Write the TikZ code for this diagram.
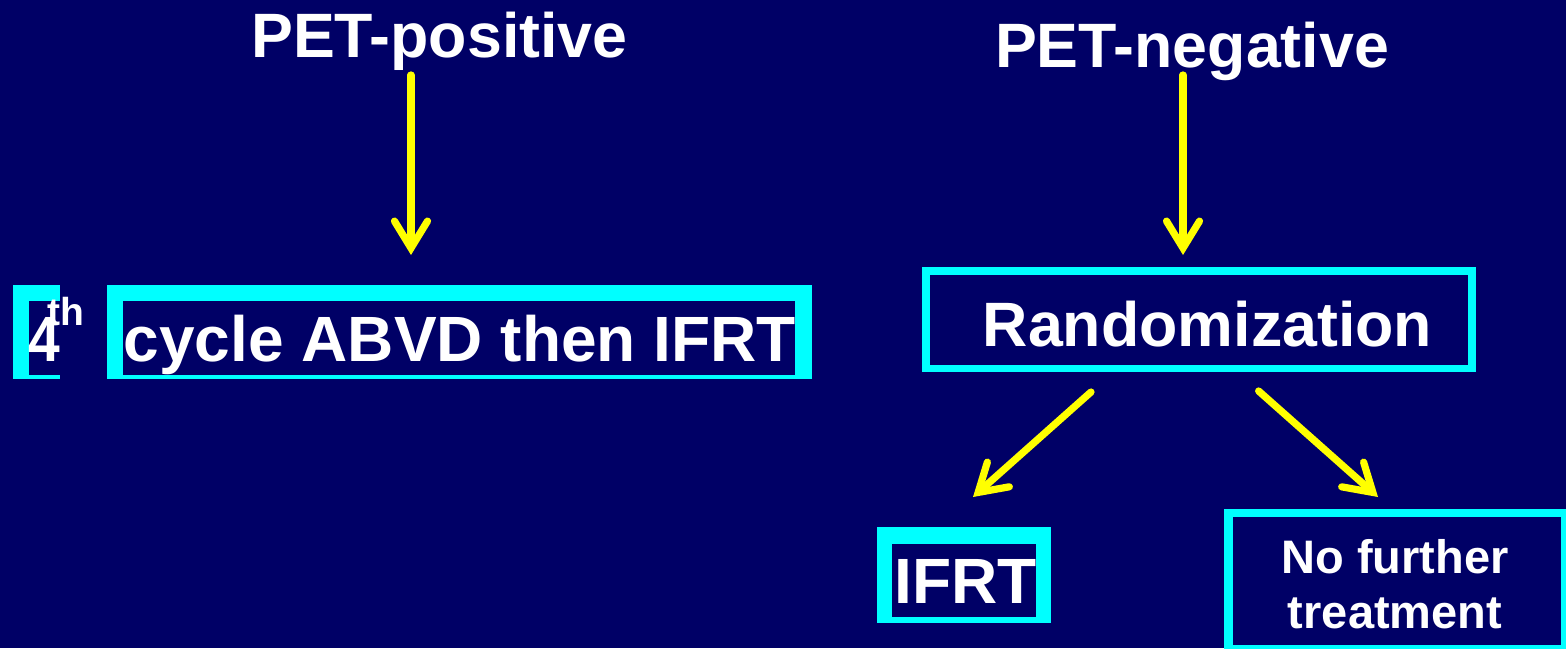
\documentclass[tikz,border=0pt]{standalone}
\usepackage{fontspec}
\setmainfont{Liberation Sans}
\usetikzlibrary{arrows.meta,fit}
\definecolor{bg}{RGB}{0,0,102}
\definecolor{cy}{RGB}{0,255,255}
\definecolor{yl}{RGB}{255,255,0}
\begin{document}
\begin{tikzpicture}[x=0.5pt,y=-0.5pt,
  txt/.style={text=white, font=\bfseries\fontsize{31.35pt}{36pt}\selectfont, inner sep=0, anchor=base},
  bigtxt/.style={txt, font=\bfseries\fontsize{32pt}{36pt}\selectfont},
  smalltxt/.style={txt, font=\bfseries\fontsize{23.5pt}{28pt}\selectfont},
  suptxt/.style={txt, anchor=base west, font=\bfseries\fontsize{19.5pt}{22pt}\selectfont},
  frame/.style={fill=cy, inner sep=0},
  hole/.style={fill=bg, inner sep=0},
  yarrow/.style={draw=yl, line width=3.6pt, line cap=round,
    -{Straight Barb[length=13.5pt, width=16.5pt, line cap=round, line join=miter]}}]
\fill[bg] (0,0) rectangle (1566,648);
\useasboundingbox (0,0) rectangle (1566,648);
\begin{scope}
\clip (0,0) rectangle (1566,648);
% headings
\node[txt] (pos) at (439.4,57.5) {PET-positive};
\node[txt] (neg) at (1192,67.5) {PET-negative};
% 4th box
\node[frame, fit={(13,285)(60,379)}] (fourf) {};
\node[hole, fit={(29,300.7)(60,375)}] (fourh) {};
\node[bigtxt, anchor=base west] (four) at (28,361) {\scalebox{0.89}[1]{4}};
\node[suptxt] (th) at (47,325) {th};
% main box
\node[frame, fit={(107,285)(812,379)}] (mainf) {};
\node[hole, fit={(123,300.7)(795,375)}] (mainh) {};
\node[bigtxt] (main) at (459.8,361) {cycle ABVD then IFRT};
% randomization
\node[frame, fit={(922,267)(1476,372)}] (randf) {};
\node[hole, fit={(930,274.5)(1468,364.5)}] (randh) {};
\node[txt] (rand) at (1207.5,346) {Randomization};
% IFRT
\node[frame, fit={(877,526.7)(1051,622.7)}] (ifrtf) {};
\node[hole, fit={(892.4,544)(1035.7,616.7)}] (ifrth) {};
\node[bigtxt] (ifrt) at (965.5,603) {IFRT};
% no further treatment
\node[frame, fit={(1224,509.3)(1572,656)}] (nftf) {};
\node[hole, fit={(1233,516.7)(1561,645)}] (nfth) {};
\node[smalltxt] (nft1) at (1395,573) {No further};
\node[smalltxt] (nft2) at (1395,628) {treatment};
% arrows
\coordinate (a1s) at (411,75);
\coordinate (a1e) at (411,255);
\coordinate (a2s) at (1183,75);
\coordinate (a2e) at (1183,255);
\coordinate (a3s) at (1091,392);
\coordinate (a3e) at (973,497);
\coordinate (a4s) at (1258.6,391);
\coordinate (a4e) at (1378,497);
\draw[yarrow] (a1s) -- (a1e);
\draw[yarrow] (a2s) -- (a2e);
\draw[yarrow] (a3s) -- (a3e);
\draw[yarrow] (a4s) -- (a4e);
\end{scope}
\end{tikzpicture}
\end{document}
